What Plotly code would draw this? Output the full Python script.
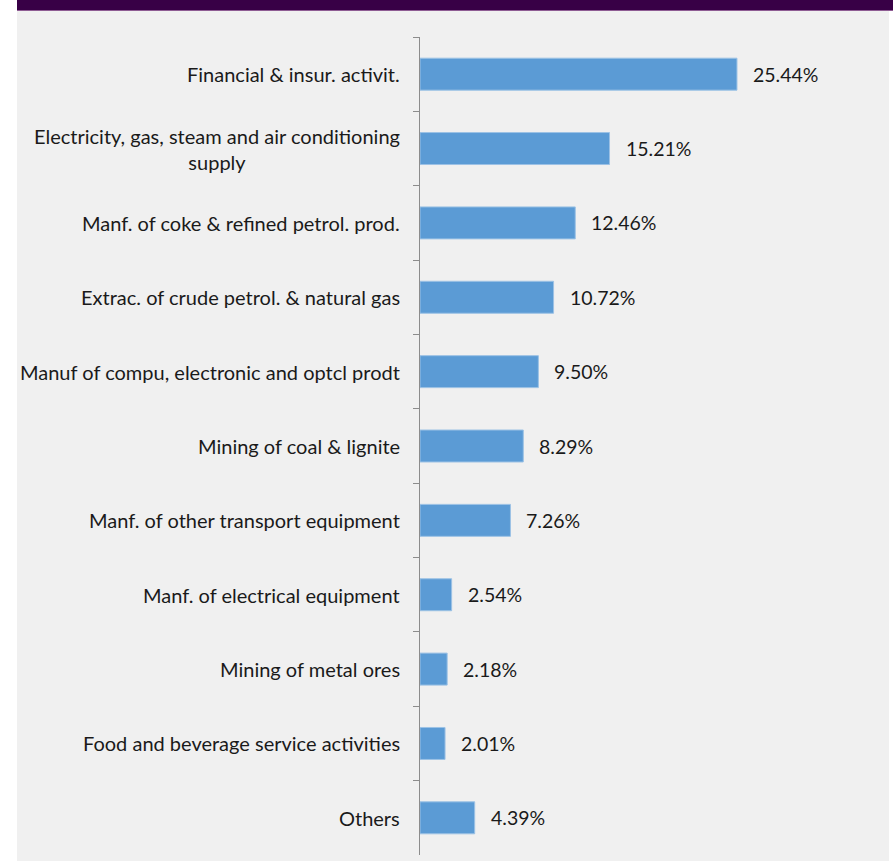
import plotly.graph_objects as go

# Share of total by sector (%)
sectors = [
    "Financial & insur. activit.",
    "Electricity, gas, steam and air conditioning<br>supply",
    "Manf. of coke & refined petrol. prod.",
    "Extrac. of crude petrol. & natural gas",
    "Manuf of compu, electronic and optcl prodt",
    "Mining of coal & lignite",
    "Manf. of other transport equipment",
    "Manf. of electrical equipment",
    "Mining of metal ores",
    "Food and beverage service activities",
    "Others",
]
shares = [25.44, 15.21, 12.46, 10.72, 9.50, 8.29, 7.26, 2.54, 2.18, 2.01, 4.39]

W, H = 893, 861
ML, MR, MT, MB = 420, 33, 37, 6
PW, PH = W - ML - MR, H - MT - MB

FONT = "Lato"
TEXT_COLOR = "#1a1a1a"
AXIS_COLOR = "#8c8c8c"


def px_x(px):
    return (px - ML) / PW


def px_y(py):
    return (H - MB - py) / PH


fig = go.Figure(
    go.Bar(
        x=shares,
        y=sectors,
        orientation="h",
        marker=dict(color="#5b9bd5", line=dict(color="#9cc2e5", width=1)),
        width=0.43,
        hoverinfo="skip",
    )
)

annotations = []
# value labels to the right of each bar
for s, v in zip(sectors, shares):
    annotations.append(
        dict(
            x=v, y=s, xref="x", yref="y", text=f"{v:.2f}%",
            showarrow=False, xanchor="left", xshift=14,
            font=dict(family=FONT, size=19.5, color=TEXT_COLOR),
        )
    )
# category labels, centred line by line and right-anchored at the axis
for s in sectors:
    annotations.append(
        dict(
            x=0, y=s, xref="paper", yref="y", text=s,
            showarrow=False, xanchor="right", xshift=-18, align="center",
            font=dict(family=FONT, size=20, color=TEXT_COLOR),
        )
    )

shapes = [
    # light grey panel
    dict(type="rect", xref="paper", yref="paper", layer="below",
         x0=px_x(17), x1=px_x(889), y0=px_y(861), y1=px_y(10),
         fillcolor="#f0f0f0", line=dict(width=0)),
    # header band
    dict(type="rect", xref="paper", yref="paper", layer="below",
         x0=px_x(17), x1=px_x(893), y0=px_y(10), y1=px_y(-5),
         fillcolor="#380046", line=dict(width=0)),
    dict(type="line", xref="paper", yref="paper", layer="below",
         x0=px_x(17), x1=px_x(893), y0=px_y(10.5), y1=px_y(10.5),
         line=dict(color="#8e5c93", width=1)),
]

fig.update_layout(
    width=W, height=H,
    margin=dict(l=ML, r=MR, t=MT, b=MB),
    paper_bgcolor="white",
    plot_bgcolor="rgba(0,0,0,0)",
    showlegend=False,
    xaxis=dict(range=[0, PW / 12.46], visible=False, fixedrange=True),
    yaxis=dict(
        categoryorder="array", categoryarray=sectors, autorange="reversed",
        showticklabels=False, showgrid=False, zeroline=False,
        showline=True, linecolor=AXIS_COLOR, linewidth=1,
        ticks="outside", tickson="boundaries", ticklen=6,
        tickcolor=AXIS_COLOR, tickwidth=1,
    ),
    annotations=annotations,
    shapes=shapes,
)

fig.write_html("out.html")
